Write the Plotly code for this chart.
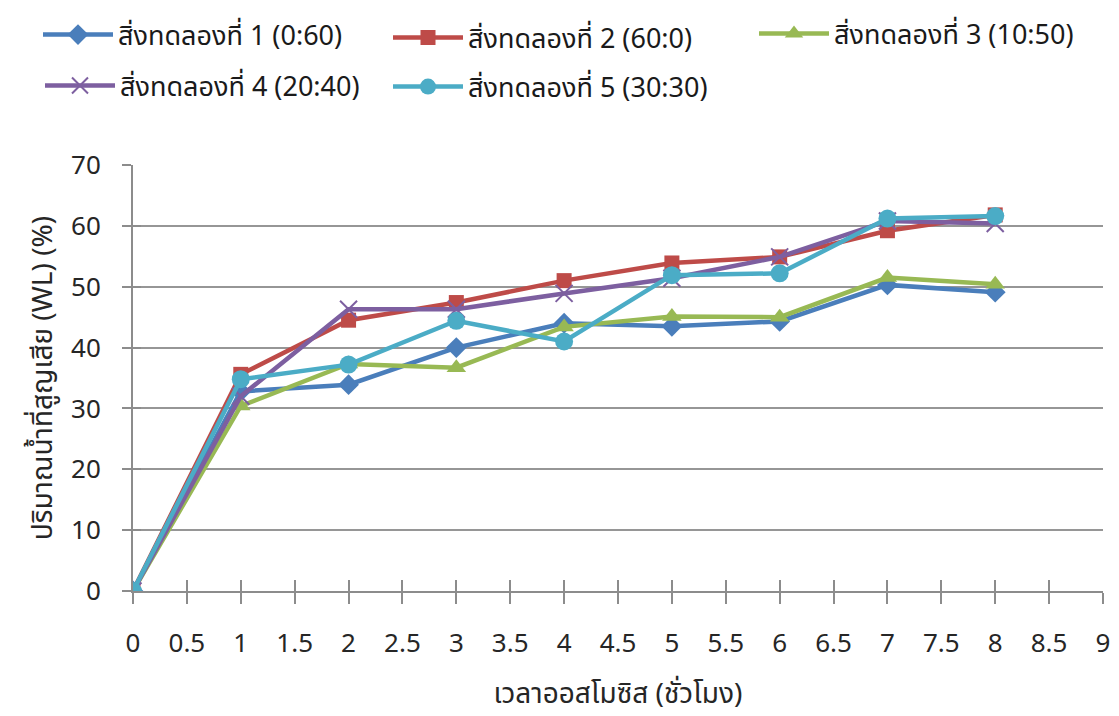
import plotly.graph_objects as go

# Osmosis time (hours)
hours = [0, 1, 2, 3, 4, 5, 6, 7, 8]

# Water loss (%) for each treatment
wl_t1 = [0, 32.8, 33.9, 40.0, 44.0, 43.5, 44.3, 50.3, 49.1]
wl_t2 = [0, 35.6, 44.5, 47.4, 51.0, 53.9, 54.9, 59.2, 61.8]
wl_t3 = [0, 30.4, 37.3, 36.7, 43.4, 45.1, 45.0, 51.5, 50.4]
wl_t4 = [0, 32.0, 46.3, 46.3, 48.9, 51.4, 54.9, 60.8, 60.4]
wl_t5 = [0, 34.8, 37.2, 44.4, 41.0, 51.9, 52.2, 61.2, 61.6]

names = [
    "สิ่งทดลองที่ 1 (0:60)",
    "สิ่งทดลองที่ 2 (60:0)",
    "สิ่งทดลองที่ 3 (10:50)",
    "สิ่งทดลองที่ 4 (20:40)",
    "สิ่งทดลองที่ 5 (30:30)",
]

x_ticks = [0, 0.5, 1, 1.5, 2, 2.5, 3, 3.5, 4, 4.5, 5, 5.5, 6, 6.5, 7, 7.5, 8, 8.5, 9]
y_ticks = [0, 10, 20, 30, 40, 50, 60, 70]

FONT = "Noto Sans, Noto Sans Thai, sans-serif"
AX = "#8c8c8c"
W, H = 1119, 716
ML, MR, MT, MB = 133, 16, 165, 125
PW, PH = W - ML - MR, H - MT - MB

styles = [
    dict(color="#4a7ebb", symbol="diamond", size=16),
    dict(color="#be4b48", symbol="square", size=15),
    dict(color="#98b954", symbol="triangle-up", size=17),
    dict(color="#7d5fa0", symbol="x-thin", size=17),
    dict(color="#4bacc6", symbol="circle", size=18),
]

# legend entry placement (left edge px, centre px) in page pixels
legend_pos = [(38, 35), (388, 38), (754, 34), (40, 86), (388, 87)]

fig = go.Figure()
for i, (ys, nm, st) in enumerate(zip([wl_t1, wl_t2, wl_t3, wl_t4, wl_t5], names, styles)):
    marker = dict(symbol=st["symbol"], size=st["size"], color=st["color"])
    if st["symbol"] == "x-thin":
        marker["line"] = dict(color=st["color"], width=2)
    lg = "legend" if i == 0 else f"legend{i + 1}"
    fig.add_trace(go.Scatter(
        x=hours, y=ys, name=nm, mode="lines+markers",
        line=dict(color=st["color"], width=4.5),
        marker=marker, legend=lg,
    ))

# invisible companion axes provide the inward half of the crossing tick marks
fig.add_trace(go.Scatter(x=[0], y=[0], xaxis="x2", yaxis="y2",
                         mode="markers", marker=dict(opacity=0),
                         showlegend=False, hoverinfo="skip"))

legends = {}
for i, (px, py) in enumerate(legend_pos):
    key = "legend" if i == 0 else f"legend{i + 1}"
    legends[key] = dict(
        xref="paper", yref="paper",
        x=(px - ML) / PW, xanchor="left", y=(H - MB - py) / PH, yanchor="middle",
        itemwidth=70, font=dict(size=27, family=FONT, color="#1a1a1a"),
        bgcolor="rgba(0,0,0,0)", borderwidth=0,
    )

fig.update_layout(
    width=W, height=H,
    margin=dict(l=ML, r=MR, t=MT, b=MB, autoexpand=False),
    paper_bgcolor="white", plot_bgcolor="white",
    font=dict(family=FONT, size=26, color="#262626"),
    showlegend=True,
    xaxis=dict(
        range=[0, 9], tickvals=x_ticks, ticktext=[f"{v:g}" for v in x_ticks],
        showgrid=False, zeroline=False,
        showline=True, linecolor=AX, linewidth=2,
        ticks="outside", ticklen=11, tickcolor=AX, tickwidth=1.5,
        tickfont=dict(size=26), ticklabelstandoff=17,
        title=dict(text="เวลาออสโมซิส (ชั่วโมง)", font=dict(size=28), standoff=24),
    ),
    yaxis=dict(
        range=[0, 70], tickvals=y_ticks,
        showgrid=True, gridcolor="#969696", gridwidth=1.5, zeroline=False,
        showline=True, linecolor=AX, linewidth=2,
        ticks="outside", ticklen=9, tickcolor=AX, tickwidth=1.5,
        tickfont=dict(size=26), ticklabelstandoff=16,
        title=dict(text="ปริมาณน้ำที่สูญเสีย (WL) (%)", font=dict(size=28), standoff=10),
    ),
    xaxis2=dict(range=[0, 9], tickvals=x_ticks, overlaying="x", anchor="y",
                showticklabels=False, showgrid=False, zeroline=False,
                ticks="inside", ticklen=11, tickcolor=AX, tickwidth=1.5),
    yaxis2=dict(range=[0, 70], tickvals=y_ticks, overlaying="y", anchor="x",
                showticklabels=False, showgrid=False, zeroline=False,
                ticks="inside", ticklen=8, tickcolor=AX, tickwidth=1.5),
    **legends,
)

fig.write_html("out.html")
